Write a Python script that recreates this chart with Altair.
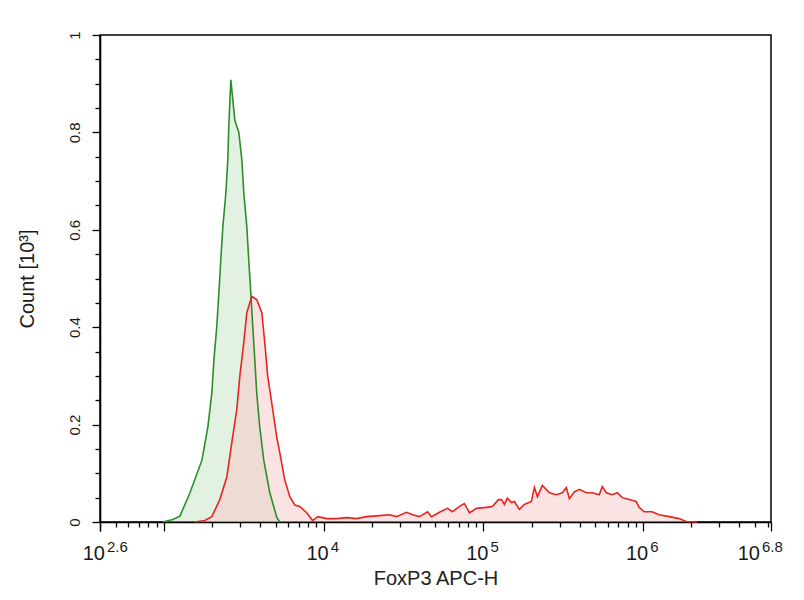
import altair as alt
import pandas as pd
import numpy as np

# ---- data (log10 of FoxP3 APC-H intensity, count in thousands) ----
iso_logx = [2.994, 3.056, 3.100, 3.163, 3.238, 3.275, 3.300, 3.313, 3.331, 3.344,
            3.356, 3.369, 3.388, 3.400, 3.406, 3.419, 3.444, 3.469, 3.488, 3.500,
            3.519, 3.531, 3.544, 3.556, 3.569, 3.581, 3.600, 3.625, 3.663, 3.706, 3.725]
iso_count = [0.000, 0.005, 0.012, 0.060, 0.127, 0.195, 0.265, 0.333, 0.402, 0.470,
             0.538, 0.606, 0.676, 0.743, 0.811, 0.908, 0.825, 0.800, 0.743, 0.676,
             0.606, 0.538, 0.470, 0.402, 0.333, 0.265, 0.195, 0.127, 0.060, 0.010, 0.000]

foxp3_logx = [3.194, 3.256, 3.300, 3.350, 3.394, 3.425, 3.456, 3.475, 3.500, 3.519,
              3.550, 3.581, 3.613, 3.631, 3.650, 3.681, 3.706, 3.725, 3.756, 3.788,
              3.819, 3.850, 3.894, 3.931, 3.963, 4.019, 4.081, 4.144, 4.206, 4.269,
              4.350, 4.413, 4.456, 4.519, 4.556, 4.600, 4.650, 4.675, 4.725, 4.775,
              4.806, 4.850, 4.881, 4.913, 4.956, 5.019, 5.056, 5.094, 5.113, 5.131,
              5.150, 5.175, 5.194, 5.225, 5.256, 5.300, 5.319, 5.338, 5.369, 5.413,
              5.456, 5.494, 5.519, 5.538, 5.569, 5.600, 5.644, 5.681, 5.725, 5.744,
              5.769, 5.806, 5.838, 5.869, 5.913, 5.956, 5.975, 6.006, 6.056, 6.100,
              6.163, 6.225, 6.269, 6.338]
foxp3_count = [0.000, 0.003, 0.011, 0.046, 0.093, 0.163, 0.231, 0.299, 0.369, 0.430,
               0.463, 0.457, 0.430, 0.369, 0.299, 0.231, 0.175, 0.143, 0.087, 0.052,
               0.035, 0.032, 0.019, 0.003, 0.011, 0.007, 0.007, 0.009, 0.007, 0.011,
               0.013, 0.015, 0.011, 0.020, 0.015, 0.011, 0.021, 0.011, 0.020, 0.028,
               0.021, 0.032, 0.038, 0.019, 0.028, 0.030, 0.032, 0.046, 0.046, 0.036,
               0.049, 0.040, 0.042, 0.026, 0.036, 0.042, 0.071, 0.052, 0.075, 0.060,
               0.056, 0.060, 0.071, 0.048, 0.062, 0.067, 0.060, 0.060, 0.056, 0.073,
               0.060, 0.056, 0.060, 0.050, 0.046, 0.042, 0.030, 0.021, 0.021, 0.015,
               0.011, 0.007, 0.001, 0.000]

x_label_pos = [2.6, 4, 5, 6, 6.8]
x_label_exp = ["2.6", "4", "5", "6", "6.8"]

x_major = [2.6, 3, 4, 5, 6, 6.8]
x_minor = []
for n in range(2, 7):
    for k in range(2, 10):
        v = round(float(np.log10(k * 10 ** n)), 4)
        if 2.6 < v < 6.8:
            x_minor.append(v)
x_ticks = sorted(x_major + x_minor)
y_ticks = [round(i * 0.05, 2) for i in range(21)]

df_iso = pd.DataFrame({"x": iso_logx, "y": iso_count})
df_fox = pd.DataFrame({"x": foxp3_logx, "y": foxp3_count})
df_lab = pd.DataFrame({"x": x_label_pos, "exp": x_label_exp})

W, H = 671, 487
FONT = "Liberation Sans"

xscale = alt.Scale(domain=[2.6, 6.8], nice=False, zero=False)
yscale = alt.Scale(domain=[0, 1], nice=False, zero=True)

xaxis = alt.Axis(
    values=x_ticks, labels=False, grid=False,
    tickSize={"condition": {"test": "abs(datum.value - round(datum.value)) < 0.001 || datum.value < 2.61 || datum.value > 6.79",
                            "value": 9}, "value": 5},
    tickColor="black", tickWidth=1.3, domainColor="black", domainWidth=1.6,
    title="FoxP3 APC-H", titleFont=FONT, titleFontSize=20, titleFontWeight="normal",
    titleColor="#222", titlePadding=37,
)
yaxis = alt.Axis(
    values=y_ticks, grid=False,
    labelExpr="round(datum.value*20) % 4 == 0 ? (datum.value == 0 ? '0' : (datum.value >= 0.999 ? '1' : format(datum.value, '.1f'))) : ''",
    tickSize={"condition": {"test": "round(datum.value*20) % 4 == 0", "value": 8}, "value": 5},
    tickColor="black", tickWidth=1.3, domainColor="black", domainWidth=1.6,
    labelAngle=270, labelAlign="center", labelBaseline="bottom", labelPadding=10,
    labelFont=FONT, labelFontSize=15, labelColor="#1a1a1a",
    title="Count [10³]", titleFont=FONT, titleFontSize=20, titleFontWeight="normal",
    titleColor="#1a1a1a", titlePadding=30,
)

x_enc = alt.X("x:Q", scale=xscale, axis=xaxis)
y_enc = alt.Y("y:Q", scale=yscale, axis=yaxis)

iso_area = alt.Chart(df_iso).mark_area(color="#b0d8b0", opacity=0.35).encode(x=x_enc, y=y_enc)
fox_area = alt.Chart(df_fox).mark_area(color="#f8c0c0", opacity=0.45).encode(x=x_enc, y=y_enc)
iso_line = alt.Chart(df_iso).mark_line(color="#2a8f2a", strokeWidth=1.6).encode(x=x_enc, y=y_enc)
fox_line = alt.Chart(df_fox).mark_line(color="#e8241f", strokeWidth=1.6).encode(x=x_enc, y=y_enc)

base_lab = alt.Chart(df_lab)
ten_main = base_lab.transform_filter("datum.x < 6.7").mark_text(
    align="right", baseline="alphabetic", font=FONT, fontSize=20, color="#1a1a1a", dx=5
).encode(x=x_enc, y=alt.value(H + 38), text=alt.value("10"))
exp_main = base_lab.transform_filter("datum.x < 6.7").mark_text(
    align="left", baseline="alphabetic", font=FONT, fontSize=15, color="#1a1a1a", dx=7
).encode(x=x_enc, y=alt.value(H + 30), text="exp:N")
ten_end = base_lab.transform_filter("datum.x >= 6.7").mark_text(
    align="right", baseline="alphabetic", font=FONT, fontSize=20, color="#1a1a1a", dx=-11
).encode(x=x_enc, y=alt.value(H + 38), text=alt.value("10"))
exp_end = base_lab.transform_filter("datum.x >= 6.7").mark_text(
    align="left", baseline="alphabetic", font=FONT, fontSize=15, color="#1a1a1a", dx=-9
).encode(x=x_enc, y=alt.value(H + 30), text="exp:N")

chart = alt.layer(
    iso_area, fox_area, iso_line, fox_line, ten_main, exp_main, ten_end, exp_end
).properties(
    width=W, height=H,
    background="white",
    autosize=alt.AutoSizeParams(type="none"),
    padding={"left": 92, "top": 27, "right": 24, "bottom": 70},
).configure_view(
    stroke="black", strokeWidth=1.5
)

chart.save("out.html", embed_options={"renderer": "svg", "actions": False})
